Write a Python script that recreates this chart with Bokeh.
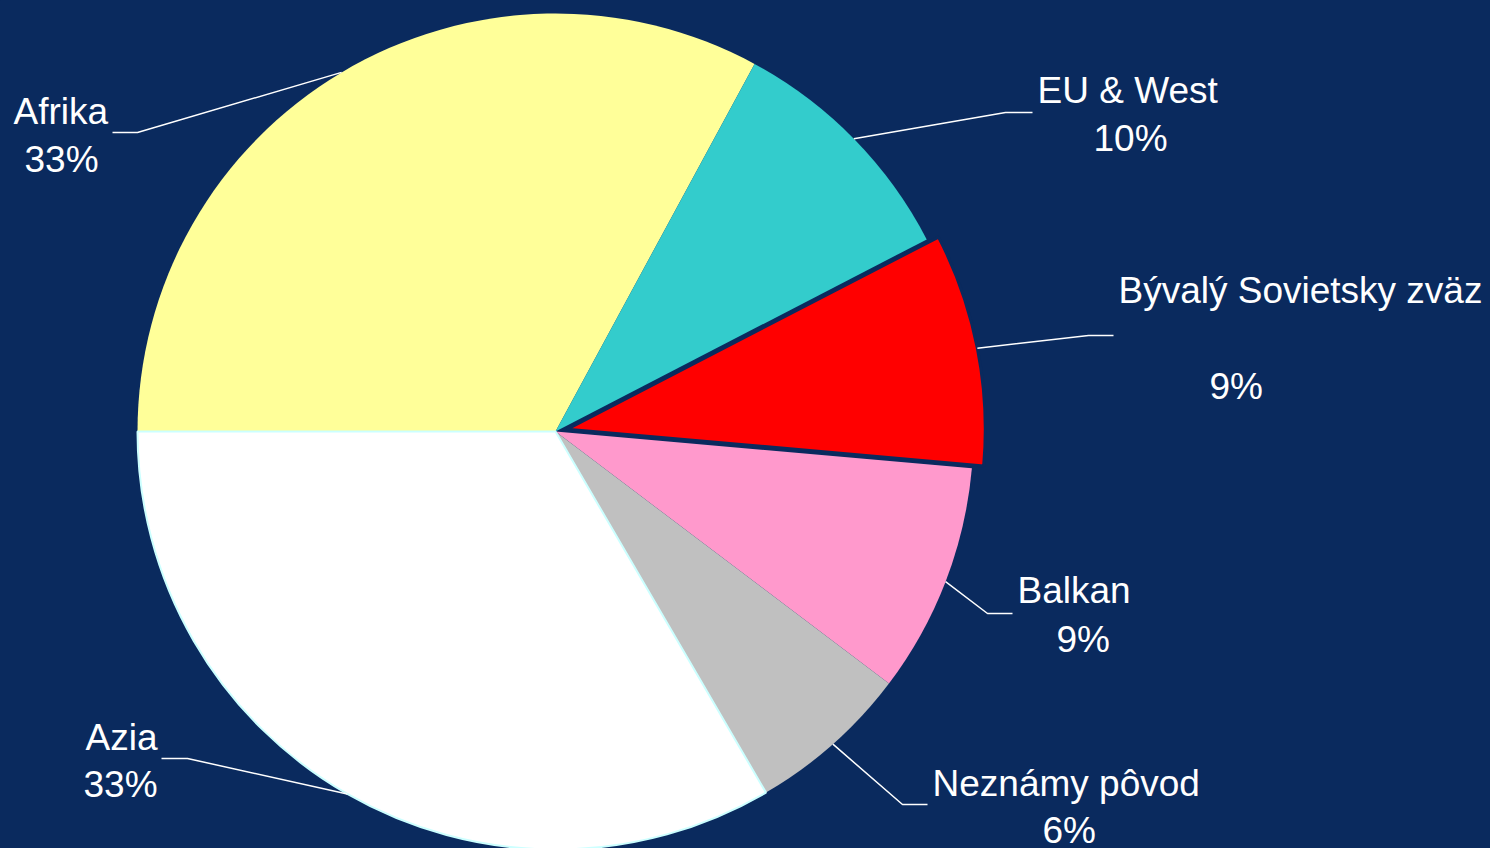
import math
from bokeh.plotting import figure
from bokeh.models import Range1d, ColumnDataSource
from bokeh.core.properties import value
from bokeh.embed import file_html
from bokeh.resources import INLINE

# ---------------- data ----------------
categories = ["Afrika", "EU & West", "Bývalý Sovietsky zväz", "Balkan", "Neznámy pôvod", "Azia"]
shares = [32.9, 9.5, 9.0, 8.9, 6.3, 33.4]
colors = ["#ffff99", "#33cccc", "#ff0000", "#ff99cc", "#c0c0c0", "#ffffff"]

# ---------------- layout (screen pixels) ----------------
BG = "#0a2a5e"
PAGE_W, PAGE_H = 1490, 848
CX, CY, R = 555, 431, 418
explode = [0, 0, 12, 0, 0, 0]
outline_color = [None, None, BG, None, None, "#ccffff"]
outline_width = [0, 0, 3, 0, 0, 2]
BASE_SHIFT = 13  # svg baseline correction
# name label (left x, baseline y), pct label (left x, baseline y), elbow (x, y), end x
name_pos = [(13, 124), (1037, 103), (1118, 303), (1017, 603), (932, 796), (85, 750)]
pct_pos = [(24, 172), (1093, 151), (1209, 399), (1056, 652), (1042, 843), (83, 797)]
elbows = [(137, 132), (1005, 112), (1088, 335), (987, 613), (902, 804), (187, 758)]
ends_x = [112, 1032, 1113, 1012, 927, 161]


def dy(sy):
    return PAGE_H - sy


p = figure(width=PAGE_W, height=PAGE_H,
           x_range=Range1d(0, PAGE_W), y_range=Range1d(0, PAGE_H),
           output_backend="svg", toolbar_location=None, min_border=0)
p.axis.visible = False
p.grid.visible = False
p.outline_line_color = None
p.background_fill_color = BG
p.border_fill_color = BG

total = sum(shares)
cum = 0.0
wedges = []
for i, s in enumerate(shares):
    a0 = math.pi - cum / total * 2 * math.pi
    cum += s
    a1 = math.pi - cum / total * 2 * math.pi
    mid = (a0 + a1) / 2
    ox = explode[i] * math.cos(mid)
    oy = explode[i] * math.sin(mid)
    wedges.append((i, a0, a1, mid, ox, oy))

order = [0, 1, 3, 4, 5, 2]
for i in order:
    _, a0, a1, mid, ox, oy = wedges[i]
    src = ColumnDataSource(dict(x=[CX + ox], y=[dy(CY) + oy], s=[a0], e=[a1]))
    p.wedge(x="x", y="y", radius=R, start_angle="s", end_angle="e", direction="clock",
            fill_color=colors[i], line_color=outline_color[i],
            line_width=outline_width[i] if outline_width[i] else 1, source=src)

# leader lines
for i, a0, a1, mid, ox, oy in wedges:
    sx = CX + ox + R * math.cos(mid)
    sy = dy(CY) + oy + R * math.sin(mid)
    ex, ey = elbows[i]
    p.line([sx, ex, ends_x[i]], [sy, dy(ey), dy(ey)], line_color="white", line_width=1.5)

pct_labels = ["%d%%" % int(s / total * 100 + 0.5) for s in shares]

p.text(x=[q[0] for q in name_pos], y=[dy(q[1] - BASE_SHIFT) for q in name_pos], text=categories,
       text_align="left", text_baseline="alphabetic", text_color="white",
       text_font=value("Liberation Sans"), text_font_size="37px")
p.text(x=[q[0] for q in pct_pos], y=[dy(q[1] - BASE_SHIFT) for q in pct_pos], text=pct_labels,
       text_align="left", text_baseline="alphabetic", text_color="white",
       text_font=value("Liberation Sans"), text_font_size="37px")

html = file_html(p, INLINE)
html = html.replace("</head>",
                    "<style>html,body{margin:0;padding:0;overflow:hidden;background-color:%s;}</style></head>" % BG, 1)
open("out.html", "w").write(html)
